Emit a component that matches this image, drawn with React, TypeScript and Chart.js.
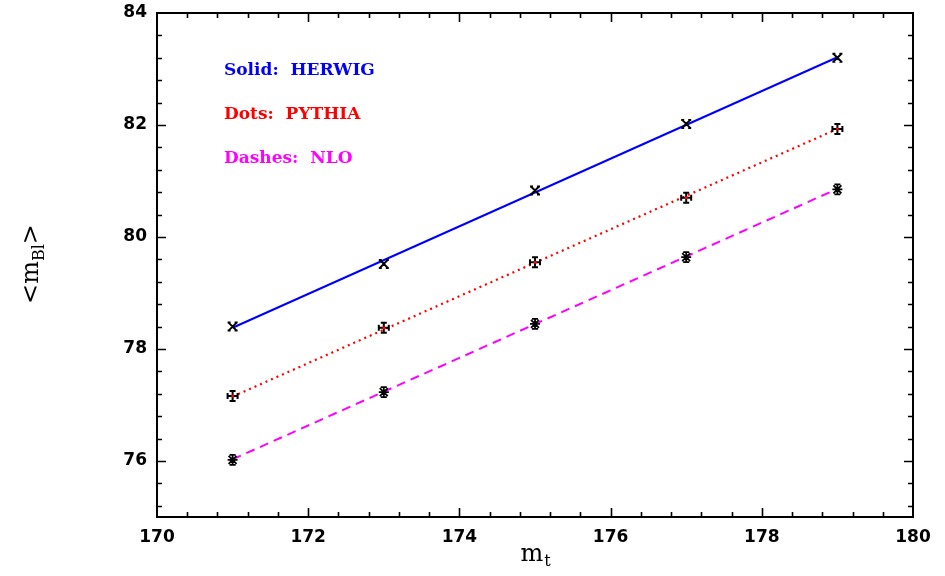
import React, { useEffect, useRef } from "react";
import { Chart, registerables } from "chart.js";

Chart.register(...registerables);

const mt = [171, 173, 175, 177, 179];
const herwig = [78.4, 79.52, 80.83, 82.02, 83.2];
const pythia = [77.16, 78.38, 79.55, 80.7, 81.93];
const nlo = [76.02, 77.23, 78.45, 79.64, 80.85];
const fitX = [171, 179];
const herwigFit = [78.38, 83.21];
const pythiaFit = [77.15, 81.93];
const nloFit = [76.03, 80.86];
const xTicks = [170, 172, 174, 176, 178, 180];
const yTicks = [76, 78, 80, 82, 84];
const legendLines = [
  { text: "Solid:  HERWIG", color: "#0000ff" },
  { text: "Dots:  PYTHIA", color: "#ff0000" },
  { text: "Dashes:  NLO", color: "#ff00ff" },
];

const framePlugin = {
  id: "frame",
  afterDraw(chart: any) {
    const ctx = chart.ctx;
    const { left, right, top, bottom } = chart.chartArea;
    const xs = chart.scales.x;
    const ys = chart.scales.y;
    ctx.save();
    ctx.strokeStyle = "#000";
    ctx.lineWidth = 2;
    ctx.strokeRect(left, top, right - left, bottom - top);
    ctx.lineWidth = 1.6;
    const major = 9;
    const minor = 5;
    ctx.beginPath();
    for (let i = 0; i <= 25; i++) {
      const v = 170 + i * 0.4;
      const isMajor = i % 5 === 0;
      const L = isMajor ? major : minor;
      const px = Math.round(xs.getPixelForValue(v)) + 0.5;
      if (i > 0 && i < 25) {
        ctx.moveTo(px, bottom);
        ctx.lineTo(px, bottom - L);
        ctx.moveTo(px, top);
        ctx.lineTo(px, top + L);
      }
    }
    for (let i = -2; i <= 20; i++) {
      const v = 76 + i * 0.4;
      if (v < 75.01 || v > 83.99) continue;
      const isMajor = i % 5 === 0;
      const L = isMajor ? major : minor;
      const py = Math.round(ys.getPixelForValue(v)) + 0.5;
      ctx.moveTo(left, py);
      ctx.lineTo(left + L, py);
      ctx.moveTo(right, py);
      ctx.lineTo(right - L, py);
    }
    ctx.stroke();

    // legend texts
    ctx.font = "bold 17px 'DejaVu Serif'";
    ctx.textBaseline = "middle";
    ctx.textAlign = "left";
    legendLines.forEach((l, i) => {
      ctx.fillStyle = l.color;
      ctx.fillText(l.text, 224, 71 + i * 44);
    });

    // x title
    ctx.fillStyle = "#000";
    ctx.textBaseline = "alphabetic";
    ctx.font = "24px 'DejaVu Serif'";
    const mW = ctx.measureText("m").width;
    ctx.font = "16px 'DejaVu Serif'";
    const tW = ctx.measureText("t").width;
    const x0 = (left + right) / 2 - (mW + tW) / 2;
    ctx.font = "24px 'DejaVu Serif'";
    ctx.fillText("m", x0, 561);
    ctx.font = "16px 'DejaVu Serif'";
    ctx.fillText("t", x0 + mW + 1, 566);

    // y title
    ctx.save();
    ctx.translate(38, 264);
    ctx.rotate(-Math.PI / 2);
    ctx.font = "24px 'DejaVu Serif'";
    const a = ctx.measureText("<m").width;
    const c = ctx.measureText(">").width;
    ctx.font = "16px 'DejaVu Serif'";
    const b = ctx.measureText("Bl").width;
    let cx = -(a + b + c) / 2;
    ctx.font = "24px 'DejaVu Serif'";
    ctx.fillText("<m", cx, 0);
    cx += a;
    ctx.font = "16px 'DejaVu Serif'";
    ctx.fillText("Bl", cx, 6);
    cx += b;
    ctx.font = "24px 'DejaVu Serif'";
    ctx.fillText(">", cx, 0);
    ctx.restore();

    // error-bar markers
    const drawMarker = (x: number, y: number, kind: number) => {
      ctx.strokeStyle = "#000";
      ctx.lineWidth = 2;
      ctx.beginPath();
      const s = 4;
      if (kind === 0) {
        ctx.moveTo(x - s, y - s);
        ctx.lineTo(x + s, y + s);
        ctx.moveTo(x + s, y - s);
        ctx.lineTo(x - s, y + s);
        ctx.moveTo(x - s - 1, y - s);
        ctx.lineTo(x - s + 2, y - s);
        ctx.moveTo(x + s + 1, y - s);
        ctx.lineTo(x + s - 2, y - s);
        ctx.moveTo(x - s - 1, y + s);
        ctx.lineTo(x - s + 2, y + s);
        ctx.moveTo(x + s + 1, y + s);
        ctx.lineTo(x + s - 2, y + s);
      } else if (kind === 1) {
        ctx.moveTo(x, y - s - 1);
        ctx.lineTo(x, y + s + 1);
        ctx.moveTo(x - s - 1, y);
        ctx.lineTo(x + s + 1, y);
        ctx.moveTo(x - 3, y - s - 1);
        ctx.lineTo(x + 3, y - s - 1);
        ctx.moveTo(x - 3, y + s + 1);
        ctx.lineTo(x + 3, y + s + 1);
        ctx.moveTo(x - s - 1, y - 3);
        ctx.lineTo(x - s - 1, y + 3);
        ctx.moveTo(x + s + 1, y - 3);
        ctx.lineTo(x + s + 1, y + 3);
      } else {
        ctx.lineWidth = 1.8;
        ctx.moveTo(x, y - s - 1);
        ctx.lineTo(x, y + s + 1);
        ctx.moveTo(x - s, y - s);
        ctx.lineTo(x + s, y + s);
        ctx.moveTo(x + s, y - s);
        ctx.lineTo(x - s, y + s);
        ctx.moveTo(x - s - 1, y);
        ctx.lineTo(x + s + 1, y);
        ctx.moveTo(x - 3, y - s - 1);
        ctx.lineTo(x + 3, y - s - 1);
        ctx.moveTo(x - 3, y + s + 1);
        ctx.lineTo(x + 3, y + s + 1);
      }
      ctx.stroke();
      if (kind === 1) {
        ctx.fillStyle = "#ff0000";
        ctx.beginPath();
        ctx.arc(x, y, 1.5, 0, Math.PI * 2);
        ctx.fill();
      }
    };
    [herwig, pythia, nlo].forEach((arr, k) => {
      arr.forEach((v, i) => {
        drawMarker(xs.getPixelForValue(mt[i]), ys.getPixelForValue(v), k);
      });
    });
    ctx.restore();
  },
};

export default function App() {
  const ref = useRef<HTMLCanvasElement>(null);
  useEffect(() => {
    if (!ref.current) return;
    const line = (data: number[], color: string, dash: number[], width: number) => ({
      data: fitX.map((x, i) => ({ x, y: data[i] })),
      borderColor: color,
      borderWidth: width,
      borderDash: dash,
      pointRadius: 0,
      fill: false,
      tension: 0,
    });
    const chart = new Chart(ref.current, {
      type: "scatter",
      data: {
        datasets: [
          { ...line(herwigFit, "#0000ff", [], 2), showLine: true },
          { ...line(pythiaFit, "#ff0000", [2, 4], 2.2), showLine: true },
          { ...line(nloFit, "#ff00ff", [9, 6], 2), showLine: true },
        ],
      },
      options: {
        responsive: false,
        animation: false,
        layout: { padding: { top: 13, right: 32, left: 0, bottom: 0 } },
        plugins: { legend: { display: false }, tooltip: { enabled: false } },
        scales: {
          x: {
            type: "linear",
            min: 170,
            max: 180,
            grid: { display: false, drawTicks: false },
            border: { display: false },
            afterBuildTicks: (s: any) => {
              s.ticks = xTicks.map((v) => ({ value: v }));
            },
            afterFit: (s: any) => {
              s.height = 59;
              s.paddingLeft = 0;
              s.paddingRight = 0;
            },
            ticks: {
              padding: 10,
              color: "#000",
              font: { family: "'DejaVu Sans'", size: 17, weight: "bold" },
              maxRotation: 0,
            },
          },
          y: {
            type: "linear",
            min: 75,
            max: 84,
            grid: { display: false, drawTicks: false },
            border: { display: false },
            afterBuildTicks: (s: any) => {
              s.ticks = yTicks.map((v) => ({ value: v }));
            },
            afterFit: (s: any) => {
              s.width = 157;
              s.paddingTop = 0;
              s.paddingBottom = 0;
            },
            ticks: {
              padding: 10,
              color: "#000",
              font: { family: "'DejaVu Sans'", size: 17, weight: "bold" },
            },
          },
        },
      } as any,
      plugins: [framePlugin],
    });
    return () => chart.destroy();
  }, []);
  return (
    <div style={{ position: "absolute", left: 0, top: 0, width: 945, height: 576, background: "#fff" }}>
      <canvas ref={ref} width={945} height={576} />
    </div>
  );
}
